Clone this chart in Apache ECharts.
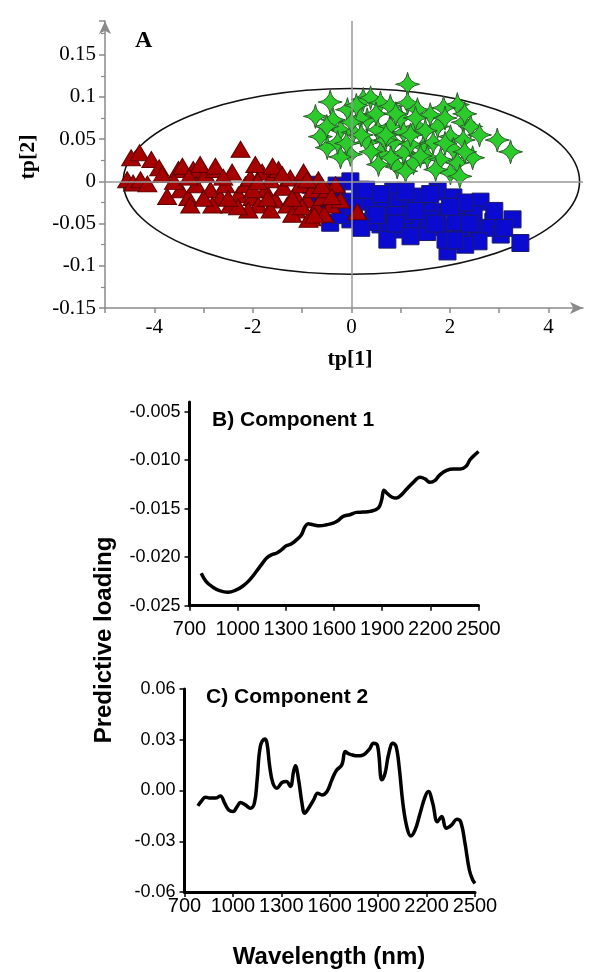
<!DOCTYPE html>
<html>
<head>
<meta charset="utf-8">
<script src="https://cdn.jsdelivr.net/npm/echarts@6/dist/echarts.min.js"></script>
<style>
html,body{margin:0;padding:0;background:#fff;}
#chart{width:590px;height:972px;}
</style>
</head>
<body>
<div id="chart"></div>
<script>
// ---------- Panel A: score plot (tp[1], tp[2]) ----------
const redTriangles = [
  [-4.55,0.002],[-4.43,-0.002],[-4.28,0.002],[-4.14,-0.003],[-4.47,0.028],[-4.30,0.034],
  [-4.06,0.026],[-3.90,0.016],[-3.84,0.008],[-3.74,-0.018],[-3.51,0.014],[-3.47,-0.010],
  [-3.31,-0.019],[-3.21,0.014],[-3.15,-0.004],[-2.96,0.008],[-2.86,-0.010],[-2.76,0.014],
  [-2.66,-0.019],[-2.56,-0.004],[-2.46,-0.028],[-2.42,0.011],[-2.29,-0.016],[-2.25,0.038],
  [-2.15,-0.004],[-2.05,0.004],[-2.01,-0.019],[-1.89,-0.028],[-1.81,0.011],[-1.75,-0.010],
  [-1.64,0.002],[-1.54,-0.022],[-1.48,0.014],[-1.38,-0.007],[-1.30,-0.028],[-1.24,0.004],
  [-1.14,-0.016],[-1.04,-0.004],[-0.97,0.011],[-0.89,-0.022],[-0.79,-0.010],[-0.71,-0.031],
  [-0.67,0.002],[-0.59,-0.019],[-0.49,-0.010],[-0.41,-0.028],[-0.32,-0.004],[-0.22,-0.022],
  [0.12,-0.036],[-0.55,-0.039],[-0.81,-0.043],[-1.12,-0.034],[-1.64,-0.034],[-2.09,-0.034],
  [-2.82,-0.028],[-3.27,-0.028],[-3.07,0.020],[-1.95,0.020],[-3.43,0.018],[-2.76,0.018],
  [-1.60,0.018],[-1.20,-0.039],[-0.87,-0.045],[-3.60,0.000],[-3.00,-0.020],[-2.60,0.005],
  [-2.30,-0.030],[-2.00,-0.010],[-1.70,-0.020],[-1.40,0.008],[-1.00,-0.030],[-0.60,-0.005],
  [-0.40,-0.018],[-0.90,0.002],[-1.90,0.000],[-2.50,-0.020],[-3.30,0.005],[-1.20,-0.020],
  [-0.75,-0.040]
];
const blueSquares = [
  [-0.83,-0.004],[-0.02,0.000],[0.18,-0.010],[-0.43,-0.022],[-0.16,-0.024],[-0.63,-0.036],
  [-0.43,-0.049],[-0.02,-0.045],[0.85,-0.012],[0.45,-0.031],[0.65,-0.031],[0.99,-0.024],
  [1.20,-0.031],[1.40,-0.019],[0.59,-0.051],[0.79,-0.055],[0.99,-0.057],[0.73,-0.069],
  [1.40,-0.060],[1.26,-0.048],[0.39,-0.048],[0.32,-0.024],[1.75,-0.012],[2.07,-0.019],
  [2.62,-0.024],[1.75,-0.036],[2.21,-0.037],[2.48,-0.039],[2.88,-0.048],[3.27,-0.045],
  [1.81,-0.054],[2.21,-0.060],[2.56,-0.057],[2.82,-0.055],[1.95,-0.083],[2.58,-0.071],
  [3.43,-0.073],[1.54,-0.060],[1.54,-0.028],[1.34,-0.018],[-0.53,-0.016],[-0.22,-0.040],
  [1.06,-0.040],[1.91,-0.069],[2.11,-0.048],[0.89,-0.040],[1.60,-0.045],[2.31,-0.075],
  [3.03,-0.063],[0.30,-0.010],[0.60,-0.015],[1.10,-0.012],[1.60,-0.015],[2.30,-0.025],
  [2.00,-0.030],[1.30,-0.035],[0.50,-0.040],[0.90,-0.050],[1.70,-0.050],[2.40,-0.050],
  [2.90,-0.035],[3.10,-0.055],[1.20,-0.065],[2.10,-0.070],[-0.70,-0.020],[-0.30,-0.005],
  [0.05,-0.030],[0.20,-0.055]
];
const greenStars = [
  [1.14,0.115],[-0.43,0.094],[-0.73,0.077],[-0.08,0.085],[0.24,0.097],[0.39,0.099],
  [0.59,0.093],[0.79,0.089],[1.14,0.093],[1.34,0.085],[-0.63,0.053],[-0.49,0.040],
  [-0.22,0.061],[0.04,0.058],[-0.02,0.032],[0.32,0.073],[0.53,0.061],[0.79,0.065],
  [1.06,0.058],[1.34,0.065],[0.32,0.046],[0.59,0.034],[0.85,0.046],[1.06,0.034],
  [0.93,0.017],[1.26,0.022],[1.46,0.041],[-0.37,0.073],[-0.22,0.029],[-0.28,0.046],
  [2.15,0.091],[1.87,0.087],[2.27,0.070],[2.42,0.065],[1.75,0.065],[2.01,0.053],
  [2.27,0.049],[1.66,0.046],[2.07,0.038],[2.46,0.028],[2.01,0.010],[2.15,0.022],
  [2.96,0.049],[3.23,0.035],[1.54,0.029],[1.81,0.026],[0.18,0.075],[1.00,0.075],
  [1.60,0.079],[0.69,0.049],[1.20,0.044],[1.71,0.014],[0.10,0.090],[0.50,0.080],
  [0.90,0.080],[1.30,0.075],[1.50,0.060],[0.00,0.070],[-0.50,0.065],[0.20,0.055],
  [0.70,0.055],[1.20,0.055],[1.90,0.075],[2.30,0.080],[2.60,0.055],[0.40,0.035],
  [0.80,0.028],[1.40,0.030],[1.90,0.045],[2.30,0.035],[-0.10,0.045],[0.55,0.020],
  [1.10,0.012],[2.20,0.006]
];
// Hotelling T2 ellipse: [centerX, centerY, semiAxisX, semiAxisY]
const t2Ellipse = [[0, 0, 4.63, 0.11]];
const scoreXTicks = [-4, -2, 0, 2, 4];

// ---------- Panel B: Component 1 loading ----------
const wavelengthB = [773,804,846,887,939,991,1033,1075,1116,1147,1179,1210,1241,1272,1303,1335,1366,1397,1418,1439,
  1470,1512,1553,1595,1626,1657,1699,1741,1782,1824,1876,1897,1911,1928,1959,1990,2021,2053,2094,2136,
  2167,2198,2230,2261,2302,2344,2386,2423,2448,2479,2500];
const loadingB = [-0.02166,-0.02252,-0.02310,-0.02345,-0.02362,-0.02338,-0.02297,-0.02234,-0.02148,-0.02079,
  -0.02010,-0.01976,-0.01959,-0.01924,-0.01883,-0.01862,-0.01821,-0.01769,-0.01690,-0.01655,
  -0.01666,-0.01676,-0.01666,-0.01648,-0.01621,-0.01579,-0.01562,-0.01538,-0.01535,-0.01528,
  -0.01493,-0.01407,-0.01310,-0.01338,-0.01379,-0.01390,-0.01355,-0.01297,-0.01228,-0.01176,
  -0.01193,-0.01228,-0.01207,-0.01148,-0.01104,-0.01090,-0.01090,-0.01062,-0.00993,-0.00942,-0.00910];

// ---------- Panel C: Component 2 loading ----------
const wavelengthC = [783,803,830,861,892,923,947,974,1001,1026,1046,1077,1108,1133,1150,1170,1197,1211,1228,1248,
  1273,1304,1331,1356,1376,1387,1407,1428,1444,1469,1500,1525,1552,1583,1613,1640,1675,1696,1716,1737,
  1768,1809,1846,1871,1896,1923,1943,1964,1991,2011,2032,2053,2077,2102,2129,2160,2191,2211,2238,2267,
  2294,2321,2356,2387,2411,2438,2465,2486,2500];
const loadingC = [-0.0091,-0.0065,-0.0040,-0.0045,-0.0045,-0.0032,-0.0071,-0.0115,-0.0124,-0.0095,
  -0.0071,-0.0085,-0.0105,-0.0075,0.0063,0.0261,0.0304,0.0280,0.0142,0.0043,
  0.0014,0.0047,0.0053,0.0024,0.0113,0.0146,0.0063,-0.0075,-0.0134,-0.0105,
  -0.0055,-0.0016,-0.0026,-0.0006,0.0063,0.0117,0.0152,0.0231,0.0217,0.0211,
  0.0205,0.0211,0.0245,0.0280,0.0265,0.0063,0.0103,0.0211,0.0280,0.0261,
  0.0122,-0.0075,-0.0213,-0.0269,-0.0233,-0.0134,-0.0036,-0.0006,-0.0075,-0.0184,
  -0.0154,-0.0223,-0.0203,-0.0170,-0.0184,-0.0312,-0.0470,-0.0529,-0.0549];
const wavelengthTicks = [700,1000,1300,1600,1900,2200,2500];
const loadingBTicks = [-0.025,-0.020,-0.015,-0.010,-0.005];
const loadingCTicks = [-0.06,-0.03,0.00,0.03,0.06];

const SERIF = '"Liberation Serif","Times New Roman",serif';
const SANS = '"Liberation Sans",Arial,sans-serif';
const GREY = '#8a8a8a';

const starPath = 'path://M0,-10 Q1.2,-1.2 10,0 Q1.2,1.2 0,10 Q-1.2,1.2 -10,0 Q-1.2,-1.2 0,-10 Z';

function zip(xs, ys){ return xs.map((x,i)=>[x, ys[i]]); }

const chart = echarts.init(document.getElementById('chart'), null, {renderer:'canvas'});

const option = {
  backgroundColor: '#ffffff',
  animation: false,
  grid: [
    {left:105, top:21, width:478, height:287},
    {left:189.5, top:402, width:289, height:203.7},
    {left:184.5, top:689, width:290.5, height:203}
  ],
  xAxis: [
    {
      gridIndex:0, type:'value', min:-5, max:4.7, interval:1,
      axisLine:{onZero:false, lineStyle:{color:GREY, width:1.5}, symbol:['none','arrow'], symbolSize:[9,13]},
      axisTick:{show:true, length:5, lineStyle:{color:GREY, width:1.5}},
      axisLabel:{color:'#000', fontFamily:SERIF, fontSize:21, margin:9, showMaxLabel:false,
        formatter:function(v){ return scoreXTicks.indexOf(Math.round(v))>=0 && Math.abs(v-Math.round(v))<1e-6 ? String(Math.round(v)) : ''; }},
      splitLine:{show:false}
    },
    {
      gridIndex:1, type:'value', min:700, max:2500,
      axisLine:{onZero:false, lineStyle:{color:'#000', width:3}},
      axisTick:{show:true, length:5, customValues:wavelengthTicks, lineStyle:{color:'#000', width:1.5}},
      axisLabel:{color:'#000', fontFamily:SANS, fontSize:20, margin:14, customValues:wavelengthTicks,
        formatter:function(v){ return String(Math.round(v)); }},
      splitLine:{show:false}
    },
    {
      gridIndex:2, type:'value', min:700, max:2500,
      axisLine:{onZero:false, lineStyle:{color:'#000', width:3}},
      axisTick:{show:true, length:5, customValues:wavelengthTicks, lineStyle:{color:'#000', width:1.5}},
      axisLabel:{color:'#000', fontFamily:SANS, fontSize:20, margin:4, customValues:wavelengthTicks,
        formatter:function(v){ return String(Math.round(v)); }},
      splitLine:{show:false}
    }
  ],
  yAxis: [
    {
      gridIndex:0, type:'value', min:-0.15, max:0.19, interval:0.05,
      axisLine:{onZero:false, lineStyle:{color:GREY, width:1.5}, symbol:['none','arrow'], symbolSize:[9,13]},
      axisTick:{show:true, length:6, lineStyle:{color:GREY, width:1.5}},
      minorTick:{show:true, splitNumber:2, length:4, lineStyle:{color:GREY, width:1.2}},
      axisLabel:{color:'#000', fontFamily:SERIF, fontSize:21, margin:9, showMaxLabel:false,
        formatter:function(v){ const r = Math.round(v*100)/100; return r>0.151 ? '' : String(r); }},
      splitLine:{show:false}
    },
    {
      gridIndex:1, type:'value', min:-0.025, max:-0.004,
      axisLine:{onZero:false, lineStyle:{color:'#000', width:3}},
      axisTick:{show:true, length:5, customValues:loadingBTicks, lineStyle:{color:'#000', width:1.5}},
      axisLabel:{color:'#000', fontFamily:SANS, fontSize:18, margin:9, customValues:loadingBTicks,
        formatter:function(v){ return v.toFixed(3); }},
      splitLine:{show:false}
    },
    {
      gridIndex:2, type:'value', min:-0.06, max:0.06,
      axisLine:{onZero:false, lineStyle:{color:'#000', width:3}},
      axisTick:{show:true, length:5, customValues:loadingCTicks, lineStyle:{color:'#000', width:1.5}},
      axisLabel:{color:'#000', fontFamily:SANS, fontSize:18, margin:9, customValues:loadingCTicks,
        formatter:function(v){ return v.toFixed(2); }},
      splitLine:{show:false}
    }
  ],
  series: [
    {
      type:'scatter', xAxisIndex:0, yAxisIndex:0, data:[], z:1, silent:true,
      markLine:{silent:true, symbol:['none','none'], label:{show:false},
        lineStyle:{color:'#999999', width:1.5, type:'solid'},
        data:[{xAxis:0},{yAxis:0}]}
    },
    {
      type:'custom', xAxisIndex:0, yAxisIndex:0, data:t2Ellipse, z:2, silent:true,
      renderItem:function(params, api){
        const c = api.coord([api.value(0), api.value(1)]);
        const e = api.coord([api.value(0)+api.value(2), api.value(1)+api.value(3)]);
        return {type:'ellipse', shape:{cx:c[0], cy:c[1], rx:Math.abs(e[0]-c[0]), ry:Math.abs(c[1]-e[1])},
          style:{fill:'none', stroke:'#111', lineWidth:1.6}};
      }
    },
    {
      type:'scatter', xAxisIndex:0, yAxisIndex:0, data:blueSquares, z:3,
      symbol:'rect', symbolSize:17,
      itemStyle:{color:'#0a0ad0', borderColor:'#1c1c6a', borderWidth:1, opacity:1}
    },
    {
      type:'scatter', xAxisIndex:0, yAxisIndex:0, data:greenStars, z:3,
      symbol:starPath, symbolSize:24,
      itemStyle:{color:'#2ccb2c', borderColor:'#2f5a2f', borderWidth:1, opacity:1}
    },
    {
      type:'scatter', xAxisIndex:0, yAxisIndex:0, data:redTriangles, z:4,
      symbol:'triangle', symbolSize:[19,16],
      itemStyle:{color:'#a60000', borderColor:'#5e0000', borderWidth:1, opacity:1}
    },
    {
      type:'line', xAxisIndex:1, yAxisIndex:1, data:zip(wavelengthB, loadingB),
      showSymbol:false, smooth:0.4, lineStyle:{color:'#000', width:3.5}
    },
    {
      type:'line', xAxisIndex:2, yAxisIndex:2, data:zip(wavelengthC, loadingC),
      showSymbol:false, smooth:0.4, lineStyle:{color:'#000', width:3.5}
    }
  ],
  graphic: [
    {type:'text', left:135, top:29, style:{text:'A', font:'bold 24px '+SERIF, fill:'#000'}},
    {type:'text', x:28, y:157, rotation:Math.PI/2, style:{text:'tp[2]', font:'bold 22px '+SERIF, fill:'#000', align:'center', verticalAlign:'middle'}},
    {type:'text', x:350, y:359, style:{text:'tp[1]', font:'bold 22px '+SERIF, fill:'#000', align:'center', verticalAlign:'middle'}},
    {type:'text', x:212, y:420, style:{text:'B) Component 1', font:'bold 21px '+SANS, fill:'#000', align:'left', verticalAlign:'middle'}},
    {type:'text', x:206, y:697, style:{text:'C) Component 2', font:'bold 21px '+SANS, fill:'#000', align:'left', verticalAlign:'middle'}},
    {type:'text', x:104, y:640, rotation:Math.PI/2, style:{text:'Predictive loading', font:'bold 24px '+SANS, fill:'#000', align:'center', verticalAlign:'middle'}},
    {type:'text', x:329, y:957, style:{text:'Wavelength (nm)', font:'bold 24px '+SANS, fill:'#000', align:'center', verticalAlign:'middle'}}
  ]
};
chart.setOption(option);
</script>
</body>
</html>
